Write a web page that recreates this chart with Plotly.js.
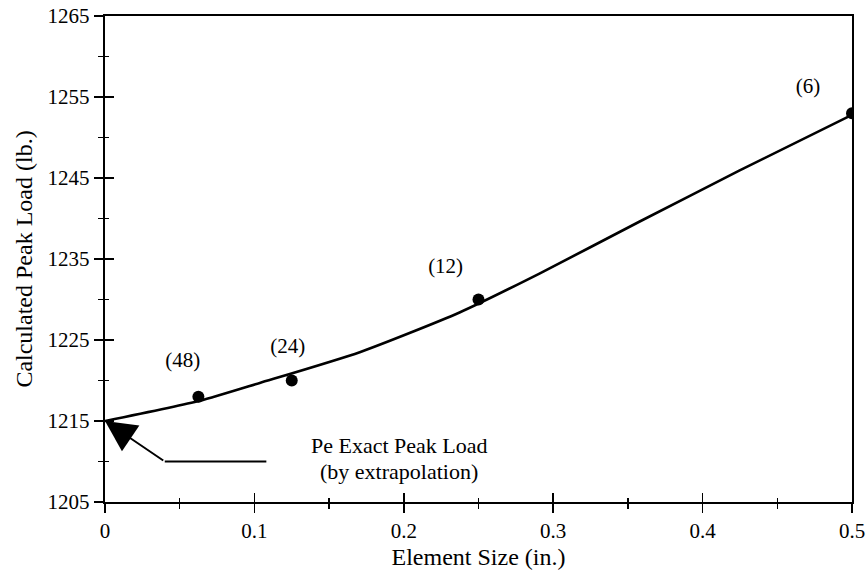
<!DOCTYPE html>
<html>
<head>
<meta charset="utf-8">
<script src="https://cdn.plot.ly/plotly-3.0.1.min.js"></script>
<style>
html,body{margin:0;padding:0;background:#fff;}
#chart{width:868px;height:584px;}
#chart text{font-family:"Liberation Serif","Times New Roman",Times,serif !important;}
</style>
</head>
<body>
<div id="chart"></div>
<script>
// Computed points (element size in., peak load lb.)
var elemSize = [0.0625, 0.125, 0.25, 0.5];
var peakLoad = [1218, 1220, 1230, 1253];
var elemCount = ['(48)', '(24)', '(12)', '(6)'];
// label anchor positions (data coords)
var labelX = [0.052, 0.1223, 0.228, 0.4706];
var labelY = [1222.3, 1224.0, 1233.9, 1256.1];
// Fitted curve
var curveX = [0, 0.0635, 0.1036, 0.1705, 0.2373, 0.2908, 0.3576, 0.4245, 0.5];
var curveY = [1215, 1217.5, 1219.7, 1223.5, 1228.4, 1233.2, 1239.6, 1245.9, 1252.8];
// Extrapolation pointer
var pointerX = [0.04, 0.108];
var pointerY = [1210, 1210];
var exactX = 0, exactY = 1215;
var xTicks = [0, 0.1, 0.2, 0.3, 0.4, 0.5];
var xTickText = ['0', '0.1', '0.2', '0.3', '0.4', '0.5'];
var yTicks = [1205, 1215, 1225, 1235, 1245, 1255, 1265];

var fontName = 'Times';

var traces = [
  {x: curveX, y: curveY, mode: 'lines', line: {color: '#000', width: 2.6, shape: 'spline', smoothing: 0.6}, hoverinfo: 'skip', showlegend: false},
  {x: elemSize, y: peakLoad, mode: 'markers', marker: {color: '#000', size: 12}, showlegend: false},
  {x: pointerX, y: pointerY, mode: 'lines', line: {color: '#000', width: 2}, hoverinfo: 'skip', showlegend: false},
  {x: labelX, y: labelY, mode: 'text', text: elemCount, textfont: {family: fontName, size: 21, color: '#000'}, showlegend: false, hoverinfo: 'skip'},
  {x: [0, 0.5], y: [1205, 1265], xaxis: 'x2', yaxis: 'y2', mode: 'markers', marker: {opacity: 0}, hoverinfo: 'skip', showlegend: false}
];

var axCommon = {showgrid: false, zeroline: false, linecolor: '#000', linewidth: 2.2, tickcolor: '#000', tickwidth: 1.8};

var layout = {
  width: 868, height: 584,
  margin: {l: 105, r: 16, t: 16, b: 82},
  paper_bgcolor: '#fff', plot_bgcolor: '#fff',
  font: {family: fontName, color: '#000', size: 21},
  xaxis: Object.assign({}, axCommon, {
    range: [0, 0.5], tickvals: xTicks, ticktext: xTickText, ticks: 'outside', ticklen: 9,
    minor: {dtick: 0.05, tick0: 0, ticks: 'outside', ticklen: 5, tickcolor: '#000', tickwidth: 1.5},
    mirror: true, showline: true, tickfont: {family: fontName, size: 21, color: '#000'},
    title: {text: 'Element Size (in.)', font: {family: fontName, size: 24, color: '#000'}, standoff: 6}
  }),
  yaxis: Object.assign({}, axCommon, {
    range: [1205, 1265], tickvals: yTicks, ticks: 'outside', ticklen: 9,
    minor: {dtick: 5, tick0: 1205, ticks: 'outside', ticklen: 5, tickcolor: '#000', tickwidth: 1.5},
    mirror: true, showline: true, tickfont: {family: fontName, size: 21, color: '#000'},
    title: {text: 'Calculated Peak Load (lb.)', font: {family: fontName, size: 24, color: '#000'}, standoff: 8}
  }),
  xaxis2: Object.assign({}, axCommon, {
    overlaying: 'x', range: [0, 0.5], tickvals: xTicks, ticks: 'inside', ticklen: 9,
    minor: {dtick: 0.05, tick0: 0, ticks: 'inside', ticklen: 4, tickcolor: '#000', tickwidth: 1.5},
    showticklabels: false, showline: false
  }),
  yaxis2: Object.assign({}, axCommon, {
    overlaying: 'y', range: [1205, 1265], tickvals: yTicks, ticks: 'inside', ticklen: 9,
    minor: {dtick: 5, tick0: 1205, ticks: 'inside', ticklen: 4, tickcolor: '#000', tickwidth: 1.5},
    showticklabels: false, showline: false
  }),
  annotations: [
    {x: exactX, y: exactY, xref: 'x', yref: 'y', axref: 'x', ayref: 'y', ax: pointerX[0], ay: pointerY[0],
     showarrow: true, arrowhead: 2, arrowsize: 3.1, arrowwidth: 2, arrowcolor: '#000', text: ''},
    {x: 0.197, y: 1212.0, xref: 'x', yref: 'y', text: 'Pe Exact Peak Load', showarrow: false,
     font: {family: fontName, size: 22, color: '#000'}, xanchor: 'center', yanchor: 'middle'},
    {x: 0.197, y: 1208.8, xref: 'x', yref: 'y', text: '(by extrapolation)', showarrow: false,
     font: {family: fontName, size: 22, color: '#000'}, xanchor: 'center', yanchor: 'middle'}
  ]
};

Plotly.newPlot('chart', traces, layout, {displayModeBar: false, staticPlot: true});
</script>
</body>
</html>
